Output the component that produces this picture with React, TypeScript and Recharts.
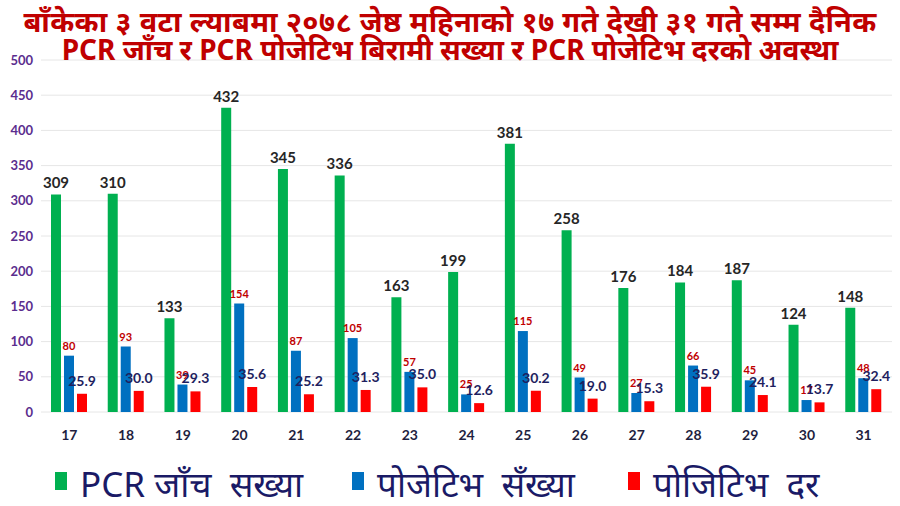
import React from 'react';
import { BarChart, Bar, XAxis, YAxis, CartesianGrid, LabelList } from 'recharts';

const days = ['17', '18', '19', '20', '21', '22', '23', '24', '25', '26', '27', '28', '29', '30', '31'];
const pcrTests = [309, 310, 133, 432, 345, 336, 163, 199, 381, 258, 176, 184, 187, 124, 148];
const positives = [80, 93, 39, 154, 87, 105, 57, 25, 115, 49, 27, 66, 45, 17, 48];
const positivityRate = [25.9, 30.0, 29.3, 35.6, 25.2, 31.3, 35.0, 12.6, 30.2, 19.0, 15.3, 35.9, 24.1, 13.7, 32.4];
const yTicks = [0, 50, 100, 150, 200, 250, 300, 350, 400, 450, 500];

const titleLine1 = 'बाँकेका ३ वटा ल्याबमा २०७८ जेष्ठ महिनाको १७ गते देखी ३१ गते सम्म दैनिक';
const titleLine2 = 'PCR जाँच र PCR पोजेटिभ बिरामी सख्या र PCR पोजेटिभ दरको अवस्था';
const seriesNames = ['PCR जाँच  सख्या', 'पोजेटिभ  सँख्या', 'पोजिटिभ  दर'];
const seriesColors = ['#00b050', '#0070c0', '#ff0000'];

const data = days.map((d, i) => ({
  day: d,
  pcr: pcrTests[i],
  pos: positives[i],
  rate: positivityRate[i],
}));

const font = "'Noto Sans', 'Noto Sans Devanagari', Lato, sans-serif";
const legendLefts = [55, 352, 628];

export default function App() {
  return (
    <div style={{ position: 'absolute', left: 0, top: 0, width: 900, height: 506, background: '#fff', fontFamily: font, overflow: 'hidden' }}>
      <BarChart
        width={900}
        height={450}
        data={data}
        margin={{ top: 60, right: 8, left: 6, bottom: 6 }}
        barSize={10}
        barGap={3}
      >
        <CartesianGrid vertical={false} stroke="#e6e6e6" />
        <XAxis
          dataKey="day"
          axisLine={false}
          tickLine={false}
          height={32}
          tick={{ fill: '#1f1f3f', fontSize: 14, fontWeight: 700, fontFamily: 'Lato, sans-serif' }}
          tickMargin={12}
        />
        <YAxis
          domain={[0, 500]}
          ticks={yTicks}
          axisLine={false}
          tickLine={false}
          width={35}
          tick={{ fill: '#5b2d8e', fontSize: 13, fontWeight: 700, fontFamily: 'Lato, sans-serif' }}
        />
        <Bar dataKey="pcr" fill={seriesColors[0]} isAnimationActive={false}>
          <LabelList dataKey="pcr" position="top" offset={6} fill="#262626" fontSize={15} fontWeight={700} fontFamily="Lato, sans-serif" />
        </Bar>
        <Bar dataKey="pos" fill={seriesColors[1]} isAnimationActive={false}>
          <LabelList dataKey="pos" position="top" offset={6} fill="#c00000" fontSize={11} fontWeight={700} fontFamily="Lato, sans-serif" />
        </Bar>
        <Bar dataKey="rate" fill={seriesColors[2]} isAnimationActive={false}>
          <LabelList dataKey="rate" position="top" offset={8} fill="#1f1f5f" fontSize={14} fontWeight={700} fontFamily="Lato, sans-serif" formatter={(v: number) => v.toFixed(1)} />
        </Bar>
      </BarChart>
      <div style={{ position: 'absolute', left: 0, top: 0, width: 900, textAlign: 'center', color: '#c00000', fontWeight: 700, zIndex: 2 }}>
        <div style={{ marginTop: 5, fontSize: 29, lineHeight: '32px', letterSpacing: 0.3 }}>{titleLine1}</div>
        <div style={{ fontSize: 28, lineHeight: '30px', marginTop: -3 }}>{titleLine2}</div>
      </div>
      {seriesNames.map((n, i) => (
        <div key={n} style={{ position: 'absolute', left: legendLefts[i], top: 462, display: 'flex', alignItems: 'center', fontSize: 35, color: '#1a1a66', lineHeight: '44px', whiteSpace: 'pre' }}>
          <span style={{ display: 'inline-block', width: 12, height: 18, background: seriesColors[i], marginRight: 13, marginTop: -6 }} />
          <span>{n}</span>
        </div>
      ))}
    </div>
  );
}
